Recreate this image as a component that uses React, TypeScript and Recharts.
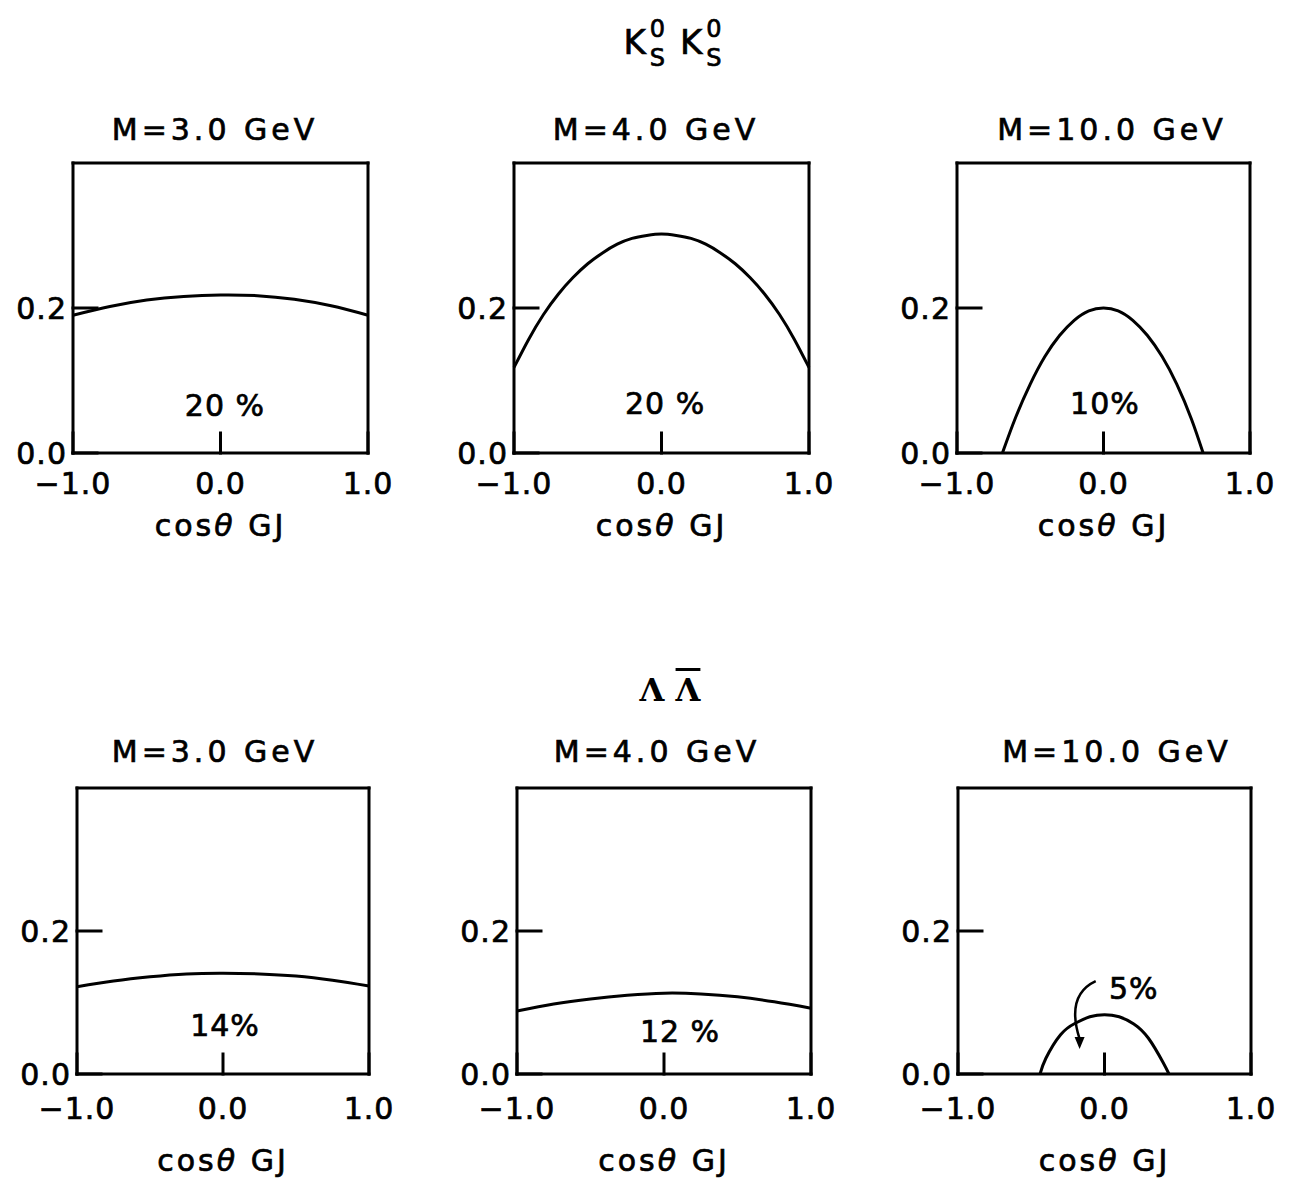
import React from "react";
import { LineChart, Line, XAxis, YAxis, ReferenceDot, ReferenceLine, Label } from "recharts";

const FONT = "'DejaVu Sans', sans-serif";

// cos(theta_GJ) sample points and curve heights
const cosK30 = [-1, -0.75, -0.5, -0.25, 0, 0.25, 0.5, 0.75, 1];
const kk30 = [0.19, 0.202, 0.211, 0.216, 0.218, 0.217, 0.212, 0.203, 0.19];

const cosK40 = [-1, -0.9, -0.8, -0.7, -0.6, -0.5, -0.4, -0.3, -0.2, -0.1, 0, 0.1, 0.2, 0.3, 0.4, 0.5, 0.6, 0.7, 0.8, 0.9, 1];
const kk40 = [0.118, 0.157, 0.191, 0.219, 0.242, 0.261, 0.276, 0.288, 0.296, 0.3, 0.302, 0.3, 0.296, 0.288, 0.276, 0.261, 0.242, 0.219, 0.191, 0.157, 0.118];

const cosK100 = [-0.69, -0.6, -0.5, -0.4, -0.3, -0.2, -0.1, 0, 0.1, 0.2, 0.3, 0.4, 0.5, 0.6, 0.68];
const kk100 = [0, 0.049, 0.095, 0.133, 0.162, 0.183, 0.196, 0.2, 0.196, 0.183, 0.162, 0.133, 0.095, 0.047, 0];

const cosL30 = [-1, -0.75, -0.5, -0.25, 0, 0.25, 0.5, 0.75, 1];
const ll30 = [0.122, 0.13, 0.136, 0.14, 0.141, 0.14, 0.137, 0.131, 0.123];

const cosL40 = [-1, -0.75, -0.5, -0.25, 0, 0.25, 0.5, 0.75, 1];
const ll40 = [0.088, 0.098, 0.105, 0.11, 0.113, 0.112, 0.108, 0.101, 0.092];

const cosL100 = [-0.44, -0.4, -0.3, -0.2, -0.1, 0, 0.1, 0.2, 0.3, 0.4, 0.44];
const ll100 = [0, 0.022, 0.055, 0.071, 0.08, 0.083, 0.08, 0.07, 0.05, 0.016, 0];

const xTicks = [-1, 0, 1];
const yTicks = [0, 0.2];

type Panel = {
  title: string;
  cos: number[];
  vals: number[];
  note: string;
  noteAt: [number, number];
  box: [number, number, number, number];
  titleAt: [number, number];
  tickGap: number;
  labelGap: number;
  arrow?: boolean;
};

const panels: Panel[] = [
  { title: "M=3.0 GeV", cos: cosK30, vals: kk30, note: "20 %", noteAt: [0.03, 0.066], box: [73, 163, 295, 290], titleAt: [215, 130], tickGap: 30, labelGap: 83 },
  { title: "M=4.0 GeV", cos: cosK40, vals: kk40, note: "20 %", noteAt: [0.024, 0.069], box: [514, 163, 295, 290], titleAt: [656, 130], tickGap: 30, labelGap: 83 },
  { title: "M=10.0 GeV", cos: cosK100, vals: kk100, note: "10%", noteAt: [0.01, 0.069], box: [957, 163, 293, 290], titleAt: [1112, 130], tickGap: 30, labelGap: 83 },
  { title: "M=3.0 GeV", cos: cosL30, vals: ll30, note: "14%", noteAt: [0.014, 0.0685], box: [77, 788, 292, 286], titleAt: [215, 752], tickGap: 34, labelGap: 97 },
  { title: "M=4.0 GeV", cos: cosL40, vals: ll40, note: "12 %", noteAt: [0.109, 0.059], box: [517, 788, 294, 286], titleAt: [657, 752], tickGap: 34, labelGap: 97 },
  { title: "M=10.0 GeV", cos: cosL100, vals: ll100, note: "5%", noteAt: [0.2, 0.12], box: [958, 788, 293, 286], titleAt: [1117, 752], tickGap: 34, labelGap: 97, arrow: true },
];

const ink = { stroke: "#000", strokeWidth: 3, strokeLinecap: "square" as const };
const tickText = { fill: "#000", fontSize: 30, fontFamily: FONT, letterSpacing: 1, stroke: "#000", strokeWidth: 0.7 };
const fmt = (v: number) => (v < 0 ? "\u2212" : "") + Math.abs(v).toFixed(1);

function ArrowShape(props: any) {
  const { x1, y1, x2, y2 } = props;
  const d = `M${x1},${y1} Q${x2 - 14},${y1 + 14} ${x2},${y2 - 10}`;
  return (
    <g>
      <path d={d} fill="none" stroke="#000" strokeWidth={2.5} />
      <path d={`M${x2 - 5},${y2 - 12} L${x2 + 5},${y2 - 12} L${x2},${y2} Z`} fill="#000" />
    </g>
  );
}

function PanelChart({ p }: { p: Panel }) {
  const [left, top, w, h] = p.box;
  const data = p.cos.map((c, i) => ({ cos: c, y: p.vals[i] }));
  const renderCos = (lp: any) => {
    const vb = lp.viewBox;
    return (
      <text x={vb.x + vb.width / 2} y={vb.y + p.labelGap} textAnchor="middle" fontSize={30} fontFamily={FONT} letterSpacing={3} fill="#000" stroke="#000" strokeWidth={0.7}>
        cos<tspan fontStyle="italic">θ</tspan> GJ
      </text>
    );
  };
  return (
    <div style={{ position: "absolute", left: left - 80, top: top - 10 }}>
      <LineChart width={w + 110} height={h + 130} data={data} margin={{ top: 0, right: 20, bottom: 0, left: 0 }}>
        <XAxis
          dataKey="cos"
          type="number"
          domain={[-1, 1]}
          ticks={xTicks}
          interval={0}
          height={120}
          tickSize={-20}
          tickMargin={p.tickGap + 10}
          tickFormatter={fmt}
          axisLine={ink}
          tickLine={ink}
          tick={tickText}
        >
          <Label content={renderCos} />
        </XAxis>
        <XAxis xAxisId="top" orientation="top" type="number" domain={[-1, 1]} ticks={[0]} height={10} tickSize={-20} tick={false} axisLine={ink} tickLine={ink} allowDataOverflow />
        <YAxis
          type="number"
          domain={[0, 0.4]}
          ticks={yTicks}
          interval={0}
          width={80}
          tickSize={-24}
          tickMargin={30}
          tickFormatter={(v: number) => v.toFixed(1)}
          axisLine={ink}
          tickLine={ink}
          tick={tickText}
          allowDataOverflow
        />
        <YAxis yAxisId="right" orientation="right" type="number" domain={[0, 0.4]} ticks={[0.2]} width={10} tickSize={-24} tick={false} axisLine={ink} tickLine={ink} allowDataOverflow />
        <Line dataKey="y" type="natural" stroke="#000" strokeWidth={3} dot={false} isAnimationActive={false} />
        <ReferenceDot
          x={p.noteAt[0]}
          y={p.noteAt[1]}
          r={0}
          fill="none"
          stroke="none"
          ifOverflow="visible"
          label={{ value: p.note, position: "center", fill: "#000", fontSize: 30, fontFamily: FONT, letterSpacing: 1, stroke: "#000", strokeWidth: 0.7 }}
        />
        {p.arrow && (
          <ReferenceLine
            segment={[{ x: -0.06, y: 0.13 }, { x: -0.17, y: 0.035 }]}
            ifOverflow="visible"
            shape={ArrowShape}
          />
        )}
      </LineChart>
    </div>
  );
}

const centered = (x: number, y: number): React.CSSProperties => ({
  position: "absolute",
  left: x,
  top: y,
  transform: "translate(-50%, -50%)",
  whiteSpace: "nowrap",
  lineHeight: 1,
});

const bold: React.CSSProperties = { WebkitTextStroke: "0.7px #000" };

function KTitle() {
  const part = (
    <>
      <span>K</span>
      <span style={{ display: "inline-flex", flexDirection: "column", fontSize: 24, lineHeight: 1.2, verticalAlign: "middle", marginLeft: 3 }}>
        <span>0</span>
        <span>S</span>
      </span>
    </>
  );
  return (
    <div style={{ ...centered(673, 44), ...bold, fontFamily: FONT, fontSize: 34, letterSpacing: 1 }}>
      {part}
      <span style={{ display: "inline-block", width: 14 }} />
      {part}
    </div>
  );
}

export default function App() {
  return (
    <div style={{ position: "absolute", left: 0, top: 0, width: 1296, height: 1185, background: "#fff", color: "#000" }}>
      <KTitle />
      <div style={{ ...centered(670, 690), fontFamily: "'DejaVu Serif', serif", fontWeight: "bold", fontSize: 32 }}>
        Λ <span style={{ textDecoration: "overline" }}>Λ</span>
      </div>
      {panels.map((p, i) => (
        <React.Fragment key={i}>
          <div style={{ ...centered(p.titleAt[0], p.titleAt[1]), ...bold, fontFamily: FONT, fontSize: 30, letterSpacing: 4 }}>{p.title}</div>
          <PanelChart p={p} />
        </React.Fragment>
      ))}
    </div>
  );
}
